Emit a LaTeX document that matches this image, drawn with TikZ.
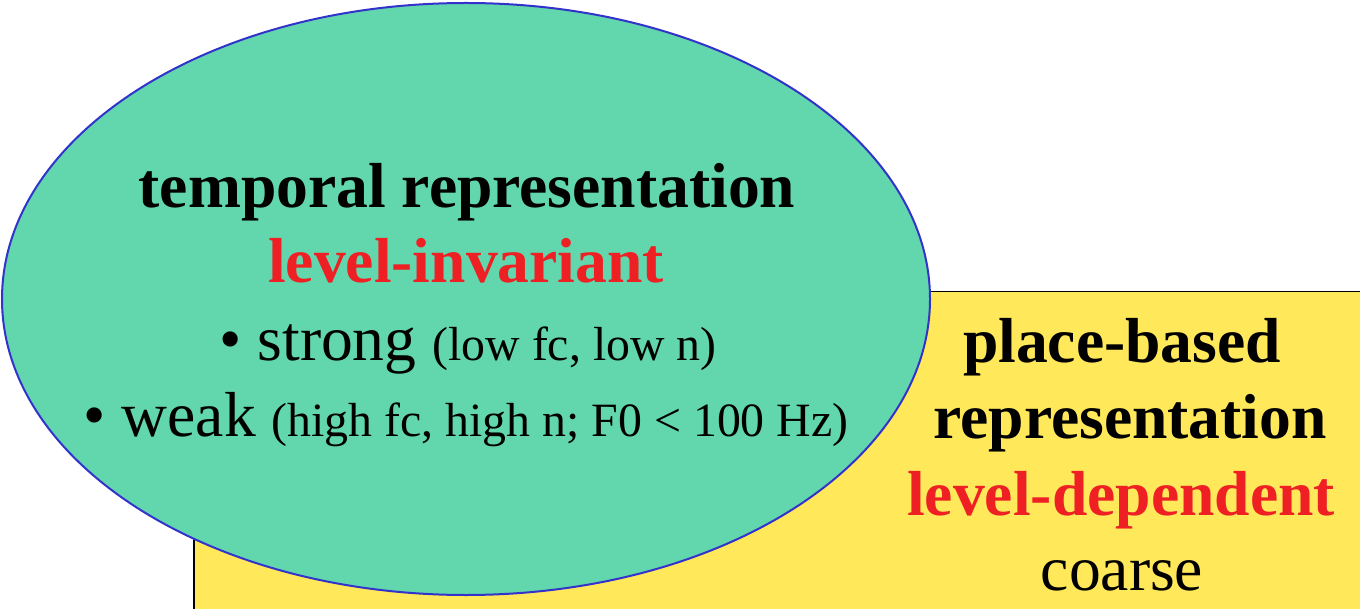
\documentclass[tikz,border=0pt]{standalone}
\usepackage{fontspec}
\setmainfont{Liberation Serif}
\usepackage{xcolor}
\usepackage{tikz}
\usetikzlibrary{positioning, shapes.geometric}

\definecolor{ovalgreen}{RGB}{98,214,172}
\definecolor{boxyellow}{RGB}{255,232,90}
\definecolor{headred}{RGB}{238,32,36}
\definecolor{rimblue}{RGB}{51,51,204}
\newcommand{\bigsz}{\fontsize{31.8}{38}\selectfont}
\newcommand{\smallsz}{\fontsize{23.9}{28}\selectfont}

\begin{document}
\begin{tikzpicture}[
  x=0.5pt, y=-0.5pt,
  txt/.style={inner sep=0pt, anchor=base, font=\bigsz},
  head/.style={txt, font=\bigsz\bfseries},
  redhead/.style={head, text=headred},
  plate/.style={draw, line width=0.75pt, fill=boxyellow, anchor=north west,
                minimum width=600pt, minimum height=200pt, inner sep=0pt},
  oval/.style={ellipse, draw=rimblue, line width=1pt, fill=ovalgreen,
               minimum width=464pt, minimum height=296pt, inner sep=0pt}
]
\useasboundingbox (0,0) rectangle (1360,609);
\clip (0,0) rectangle (1360,609);
% yellow plate behind
\node[plate] (place) at (193,291) {};
% green oval in front
\node[oval] (temporal) at (466,299) {};
% oval text
\node[head] (temphead) at (467,208) {temporal representation};
\node[redhead] (invariant) at (466,283) {level-invariant};
\node[txt] (strong) at (468,360) {• strong {\smallsz(low fc, low n)}};
\node[txt] (weak) at (466,436) {• weak {\smallsz(high fc, high n; F0 < 100 Hz)}};
% plate text
\node[head] (placehead) at (1122,363) {place-based};
\node[head] (placerep) at (1130,438) {representation};
\node[redhead] (dependent) at (1121,515) {level-dependent};
\node[txt] (coarse) at (1122,590) {coarse};
\end{tikzpicture}
\end{document}
